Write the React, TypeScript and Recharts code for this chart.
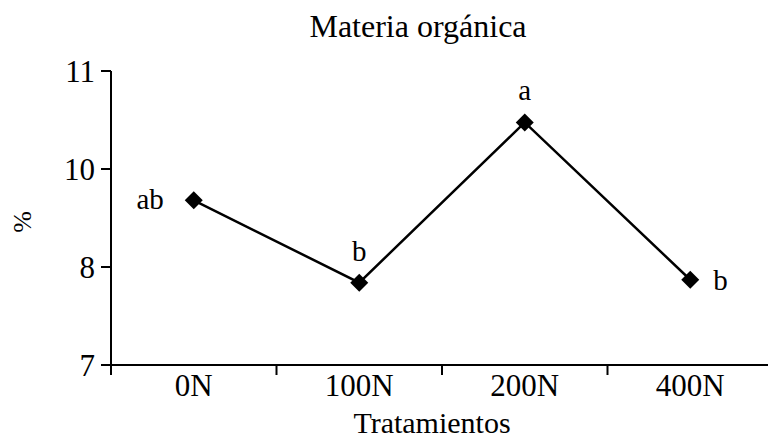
import React from 'react';
import { LineChart, Line, XAxis, YAxis, LabelList } from 'recharts';

const categories = ['0N', '100N', '200N', '400N'];
const values = [9.24, 8.12, 10.3, 8.16];
const letters = ['ab', 'b', 'a', 'b'];
const yTicks = [7, 8.333, 9.667, 11];
const yTickLabels = ['7', '8', '10', '11'];

// where each significance letter sits relative to its point
const letterSide = ['left', 'top', 'top', 'right'];

const data = categories.map((name, i) => ({ name, value: values[i], letter: letters[i] }));

const font = '"Liberation Serif", "Times New Roman", serif';

const Diamond = (props: any) => {
  const { cx, cy } = props;
  if (cx == null || cy == null) return null;
  const r = 9;
  return (
    <polygon
      points={`${cx},${cy - r} ${cx + r},${cy} ${cx},${cy + r} ${cx - r},${cy}`}
      fill="#000"
    />
  );
};

// category label centred in its band, with a tick mark on the band's left edge
const CategoryTick = (props: any) => {
  const { x, y, payload } = props;
  const half = payload?.offset ?? 0;
  return (
    <g>
      <line x1={x - half} y1={y - 9} x2={x - half} y2={y + 1} stroke="#000" strokeWidth={2} />
      <text
        x={x}
        y={y}
        dy="0.71em"
        textAnchor="middle"
        fontFamily={font}
        fontSize={31}
        fill="#000"
      >
        {payload.value}
      </text>
    </g>
  );
};

const LetterLabel = (props: any) => {
  const { x, y, index } = props;
  const side = letterSide[index];
  let tx = x;
  let ty = y;
  let anchor: 'start' | 'middle' | 'end' = 'middle';
  if (side === 'left') {
    tx = x - 30;
    ty = y + 9;
    anchor = 'end';
  } else if (side === 'right') {
    tx = x + 23;
    ty = y + 10;
    anchor = 'start';
  } else {
    ty = y - 22;
  }
  return (
    <text x={tx} y={ty} textAnchor={anchor} fontFamily={font} fontSize={29} fill="#000">
      {letters[index]}
    </text>
  );
};

export default function App() {
  return (
    <div
      style={{
        position: 'absolute',
        left: 0,
        top: 0,
        width: 768,
        height: 443,
        overflow: 'hidden',
        background: '#fff',
        fontFamily: font,
      }}
    >
      <div
        style={{
          position: 'absolute',
          left: 418,
          top: 10,
          transform: 'translateX(-50%)',
          fontSize: 32,
          lineHeight: '32px',
          whiteSpace: 'nowrap',
          color: '#000',
        }}
      >
        Materia orgánica
      </div>
      <LineChart
        width={780}
        height={443}
        data={data}
        margin={{ top: 71, right: 7, bottom: 38, left: 51 }}
      >
        <XAxis
          dataKey="name"
          scale="band"
          height={40}
          tickLine={false}
          tickSize={0}
          tickMargin={9}
          interval={0}
          axisLine={{ stroke: '#000', strokeWidth: 2 }}
          tick={<CategoryTick />}
        />
        <YAxis
          domain={[7, 11]}
          ticks={yTicks}
          width={60}
          tickSize={10}
          tickMargin={6}
          interval={0}
          tickFormatter={(v: number) => yTickLabels[yTicks.indexOf(v)] ?? String(v)}
          axisLine={{ stroke: '#000', strokeWidth: 2 }}
          tickLine={{ stroke: '#000', strokeWidth: 2 }}
          tick={{ fill: '#000', fontSize: 31, fontFamily: font }}
        />
        <Line
          dataKey="value"
          stroke="#000"
          strokeWidth={2.5}
          dot={<Diamond />}
          activeDot={false}
          isAnimationActive={false}
        >
          <LabelList dataKey="letter" content={<LetterLabel />} />
        </Line>
      </LineChart>
      <div
        style={{
          position: 'absolute',
          left: 432,
          top: 408,
          transform: 'translateX(-50%)',
          fontSize: 30,
          lineHeight: '30px',
          whiteSpace: 'nowrap',
          color: '#000',
        }}
      >
        Tratamientos
      </div>
      <div
        style={{
          position: 'absolute',
          left: 23,
          top: 222,
          transform: 'translate(-50%, -50%) rotate(-90deg)',
          fontSize: 26,
          lineHeight: '26px',
          whiteSpace: 'nowrap',
          color: '#000',
        }}
      >
        %
      </div>
    </div>
  );
}
